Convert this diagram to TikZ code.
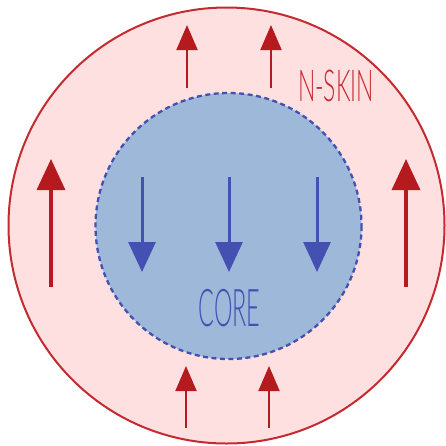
\documentclass[tikz,border=0pt]{standalone}
\usepackage{fontspec}
\setmainfont{Liberation Sans}
\newfontfamily\thinfont{Lato Light}
\usetikzlibrary{arrows.meta}
\definecolor{skinfill}{HTML}{FFE0E1}
\definecolor{skinline}{HTML}{C42A30}
\definecolor{corefill}{HTML}{9DB8D8}
\definecolor{coreline}{HTML}{4352B2}
\definecolor{redarrow}{HTML}{B51A1E}
\definecolor{bluearrow}{HTML}{4450B2}
\tikzset{
  smallred/.style={draw=redarrow, line width=2pt, -{Triangle[length=25pt,width=21pt]}},
  bigred/.style={draw=redarrow, line width=3.4pt, -{Triangle[length=31pt,width=28pt]}},
  bluedown/.style={draw=bluearrow, line width=3pt, -{Triangle[length=30pt,width=27pt]}},
  lbl/.style={inner sep=0pt, anchor=center}
}
\begin{document}
\begin{tikzpicture}[x=1pt,y=-1pt]
\useasboundingbox (0,0) rectangle (446,445);
% outer skin
\draw[skinline, fill=skinfill, line width=2pt] (226.5,225.5) circle (218);
% core
\draw[coreline, fill=corefill, line width=2.3pt, dash pattern=on 5pt off 3.5pt] (228.5,226) circle (133);
% coordinates
\coordinate (t1a) at (187,88); \coordinate (t1b) at (187,25);
\coordinate (t2a) at (271,88); \coordinate (t2b) at (271,25);
\coordinate (b1a) at (186,428); \coordinate (b1b) at (186,366);
\coordinate (b2a) at (269,428); \coordinate (b2b) at (269,366);
\coordinate (l1a) at (51,287); \coordinate (l1b) at (51,159);
\coordinate (r1a) at (406,287); \coordinate (r1b) at (406,159);
\coordinate (c1a) at (142,177); \coordinate (c1b) at (142,272);
\coordinate (c2a) at (229,177); \coordinate (c2b) at (229,272);
\coordinate (c3a) at (317,177); \coordinate (c3b) at (317,272);
\draw[smallred] (t1a) -- (t1b);
\draw[smallred] (t2a) -- (t2b);
\draw[smallred] (b1a) -- (b1b);
\draw[smallred] (b2a) -- (b2b);
\draw[bigred] (l1a) -- (l1b);
\draw[bigred] (r1a) -- (r1b);
\draw[bluedown] (c1a) -- (c1b);
\draw[bluedown] (c2a) -- (c2b);
\draw[bluedown] (c3a) -- (c3b);
% labels
\node[lbl, text=skinline, xscale=0.52, font=\thinfont\fontsize{44}{44}\selectfont] (skin) at (336,86) {N-SKIN};
\node[lbl, text=bluearrow, xscale=0.45, font=\thinfont\fontsize{52}{52}\selectfont] (core) at (229.5,308) {CORE};
\end{tikzpicture}
\end{document}
